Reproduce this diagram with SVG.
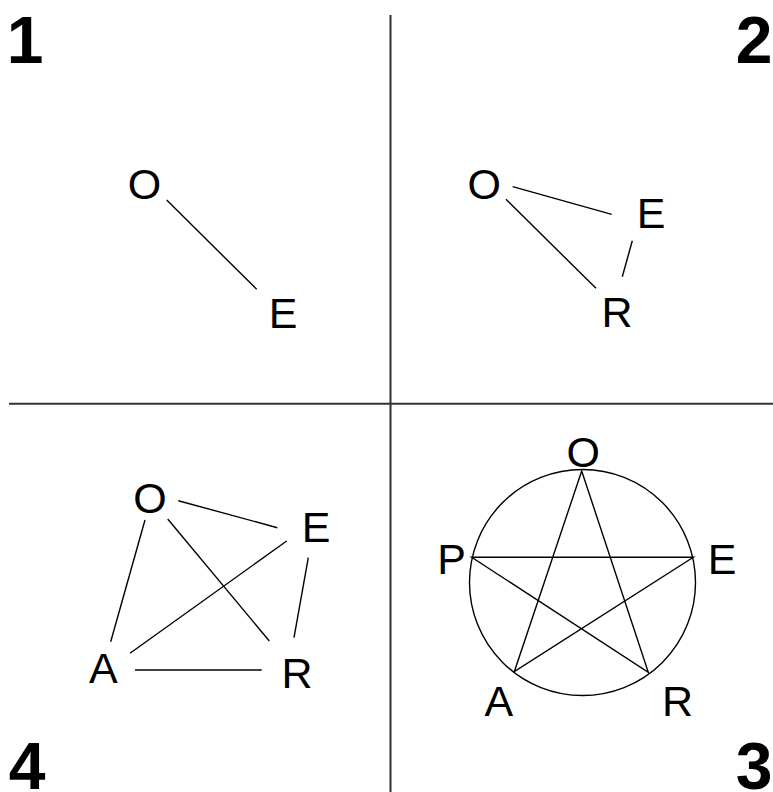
<svg xmlns="http://www.w3.org/2000/svg" width="773" height="792" viewBox="0 0 773 792">
<style>
.num{font-family:"Liberation Sans",Arial,sans-serif;font-weight:bold;font-size:66px;fill:#000;text-anchor:middle}
.lbl{font-family:"Liberation Sans",Arial,sans-serif;font-size:43px;fill:#000;text-anchor:middle}
.div{stroke:#333;stroke-width:2;fill:none}
.e{stroke:#000;stroke-width:1.4;fill:none;stroke-linecap:butt}
</style>
<rect width="773" height="792" fill="#fff"/>
<g id="dividers">
<line class="div" x1="390.5" y1="15" x2="390.5" y2="792"/>
<line class="div" x1="9" y1="403.8" x2="773" y2="403.8"/>
</g>
<g id="panel-numbers">
<text class="num" x="25" y="63">1</text>
<text class="num" x="754" y="63">2</text>
<text class="num" x="754" y="789">3</text>
<text class="num" x="27" y="789">4</text>
</g>
<g id="connectors">
<line class="e" x1="166.7" y1="200" x2="256.7" y2="289.3"/>
<line class="e" x1="512.7" y1="186.7" x2="611.7" y2="214.3"/>
<line class="e" x1="506" y1="199.3" x2="596" y2="288.3"/>
<line class="e" x1="632.3" y1="240.7" x2="622.3" y2="276.7"/>
<line class="e" x1="178.3" y1="500.7" x2="277.3" y2="527.7"/>
<line class="e" x1="145" y1="520" x2="110.7" y2="641.7"/>
<line class="e" x1="167.7" y1="519" x2="269.3" y2="641"/>
<line class="e" x1="286.7" y1="541" x2="130" y2="653.3"/>
<line class="e" x1="308.3" y1="557.7" x2="294" y2="637.7"/>
<line class="e" x1="135" y1="670" x2="261.7" y2="670"/>
<circle class="e" cx="582.5" cy="582.5" r="113"/>
<polygon class="e" points="581.7,471 648.3,672.3 471.7,557.3 693.3,557.3 514.3,671.7"/>
</g>
<g id="p1-O"><text class="lbl" x="144.5" y="199">O</text></g>
<g id="p1-E"><text class="lbl" x="283" y="328">E</text></g>
<g id="p2-O"><text class="lbl" x="484.3" y="199">O</text></g>
<g id="p2-E"><text class="lbl" x="651" y="228">E</text></g>
<g id="p2-R"><text class="lbl" x="617" y="327">R</text></g>
<g id="p4-O"><text class="lbl" x="150" y="513">O</text></g>
<g id="p4-E"><text class="lbl" x="316" y="541.5">E</text></g>
<g id="p4-A"><text class="lbl" x="103.3" y="683">A</text></g>
<g id="p4-R"><text class="lbl" x="297" y="687.5">R</text></g>
<g id="p3-O"><text class="lbl" x="583.3" y="466.5">O</text></g>
<g id="p3-P"><text class="lbl" x="451.7" y="574">P</text></g>
<g id="p3-E"><text class="lbl" x="722" y="574">E</text></g>
<g id="p3-A"><text class="lbl" x="498.8" y="715.5">A</text></g>
<g id="p3-R"><text class="lbl" x="677.5" y="715.5">R</text></g>
</svg>
